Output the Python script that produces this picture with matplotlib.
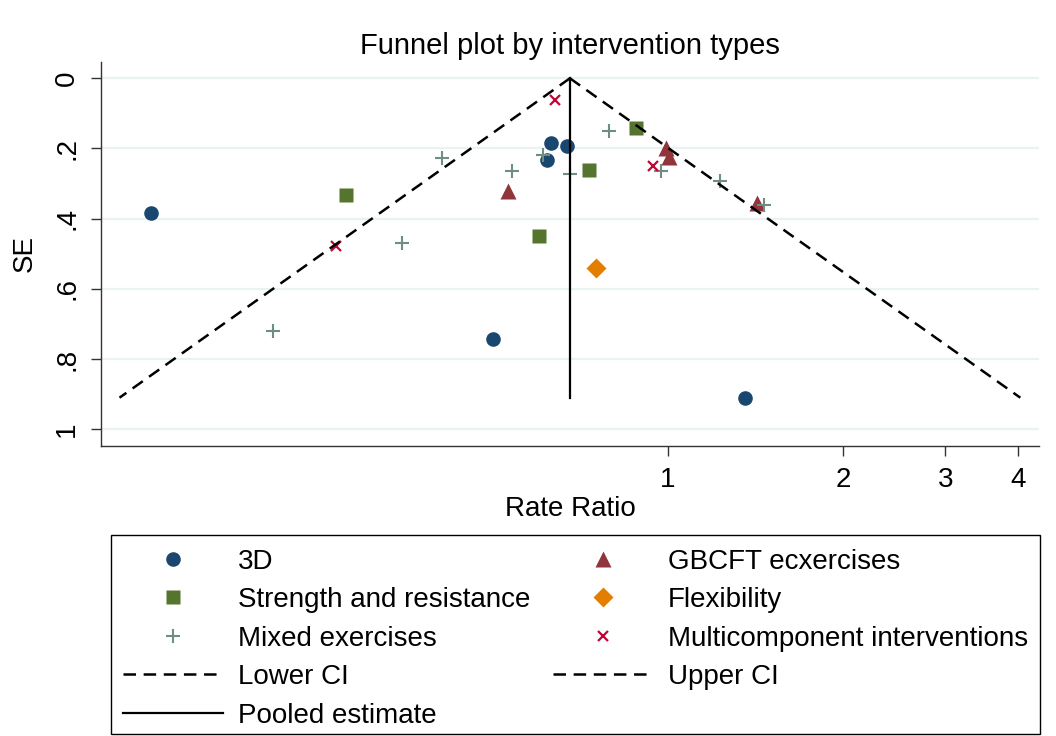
import numpy as np
import matplotlib.pyplot as plt
from matplotlib.patches import Rectangle
from matplotlib.ticker import FixedLocator, FixedFormatter, NullLocator

plt.rcParams['font.family'] = ['Liberation Sans', 'DejaVu Sans']
plt.rcParams['lines.scale_dashes'] = False

# rate ratio and standard error of each study, by intervention type
rr_3d = [0.129, 0.630, 0.670, 0.619, 0.500, 1.357]
se_3d = [0.385, 0.183, 0.192, 0.234, 0.743, 0.910]
rr_gbcft = [0.530, 0.992, 1.005, 1.424]
se_gbcft = [0.321, 0.200, 0.223, 0.356]
rr_strength = [0.279, 0.600, 0.730, 0.882]
se_strength = [0.332, 0.449, 0.261, 0.142]
rr_flex = [0.751]
se_flex = [0.541]
rr_mixed = [0.209, 0.349, 0.409, 0.539, 0.609, 0.679, 0.792, 0.971, 1.229, 1.464]
se_mixed = [0.720, 0.470, 0.226, 0.264, 0.219, 0.273, 0.150, 0.264, 0.293, 0.362]
rr_multi = [0.640, 0.268, 0.941]
se_multi = [0.062, 0.477, 0.250]

# pooled rate ratio and the largest SE the funnel is drawn to
pooled = 0.678
se_max = 0.91
z = 1.96

x_ticks = [1, 2, 3, 4]
y_ticks = [0, 0.2, 0.4, 0.6, 0.8, 1]
y_ticklabels = ['0', '.2', '.4', '.6', '.8', '1']

fig = plt.figure(figsize=(10.56, 7.36), dpi=100)
ax = fig.add_axes([101/1056, 1 - 446/736, (1039 - 101)/1056, (446 - 62)/736])

# groups
p1, = ax.plot(rr_3d, se_3d, 'o', ms=10.5, color='#1A476F', mec='none', ls='none')
p2, = ax.plot(rr_gbcft, se_gbcft, '^', ms=12, color='#90353B', mec='none', ls='none')
p3, = ax.plot(rr_strength, se_strength, 's', ms=10.5, color='#55752F', mec='none', ls='none')
p4, = ax.plot(rr_flex, se_flex, 'D', ms=10, color='#E37E00', mec='none', ls='none')
p5, = ax.plot(rr_mixed, se_mixed, '+', ms=9.5, mew=1.5, color='#6E8E84', ls='none')
p6, = ax.plot(rr_multi, se_multi, 'x', ms=7, mew=1.6, color='#C10534', ls='none')

# funnel: pseudo 95% limits around the pooled estimate
dash = (0, (9, 5.5))
lo_end = np.exp(np.log(pooled) - z*se_max)
hi_end = np.exp(np.log(pooled) + z*se_max)
l1, = ax.plot([pooled, lo_end], [0, se_max], color='black', lw=1.8, ls=dash, zorder=4)
l2, = ax.plot([pooled, hi_end], [0, se_max], color='black', lw=1.8, ls=dash, zorder=4)
l3, = ax.plot([pooled, pooled], [0, se_max], color='black', lw=1.6, zorder=4)

ax.set_xscale('log')
ax.set_xlim(np.exp(-2.2455), np.exp(1.469))
ax.set_ylim(1.0476, -0.0464)

ax.xaxis.set_major_locator(FixedLocator(x_ticks))
ax.xaxis.set_major_formatter(FixedFormatter([str(t) for t in x_ticks]))
ax.xaxis.set_minor_locator(NullLocator())
ax.set_yticks(y_ticks)
ax.set_yticklabels(y_ticklabels, rotation=90, va='center')

for t in y_ticks:
    ax.axhline(t, color='#EAF2F3', lw=1.6, zorder=0)

for s in ['top', 'right']:
    ax.spines[s].set_visible(False)
for s in ['left', 'bottom']:
    ax.spines[s].set_color('#333333')
    ax.spines[s].set_linewidth(1.0)
ax.tick_params(length=7, width=1, color='#333333', labelsize=20, pad=8)

ax.set_title('Funnel plot by intervention types', fontsize=21, pad=6)
ax.set_xlabel('Rate Ratio', fontsize=20, labelpad=2)
ax.set_ylabel('SE', fontsize=20, labelpad=12)

handles = [p1, p3, p5, l1, l3, p2, p4, p6, l2]
labels = ['3D', 'Strength and resistance', 'Mixed exercises', 'Lower CI', 'Pooled estimate',
          'GBCFT ecxercises', 'Flexibility', 'Multicomponent interventions', 'Upper CI']
leg = fig.legend(handles, labels, ncol=2, loc='upper left',
                 bbox_to_anchor=(111/1056, 1 - 537/736, (1040 - 111)/1056, 0),
                 mode='expand', borderaxespad=0, fontsize=20, handlelength=3.6,
                 handletextpad=0.55, labelspacing=0.45, borderpad=0.42,
                 frameon=False)

# legend border drawn as its own box
fig.patches.append(Rectangle((111/1056, 1 - 734/736), (1040 - 111)/1056, (734 - 535)/736,
                             transform=fig.transFigure, fill=False, edgecolor='black', lw=1.0))

fig.savefig('out.png', dpi=100)
